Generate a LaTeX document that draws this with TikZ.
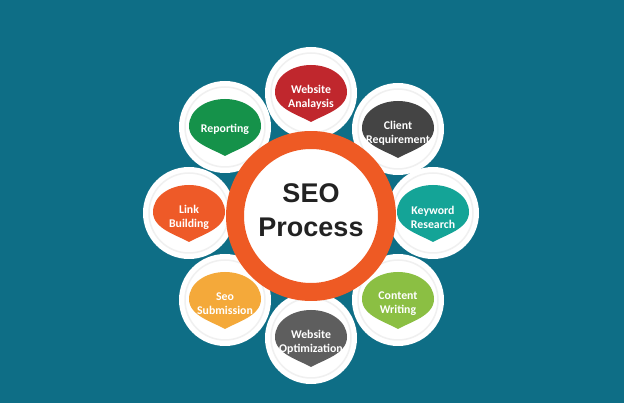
\documentclass[tikz,border=0pt]{standalone}
\usepackage{fontspec}
\setmainfont{Carlito}
\newfontfamily\headfont{Liberation Sans}
\usepackage{xcolor}
\definecolor{seo_bg}{HTML}{0E6E86}
\definecolor{seo_orange}{HTML}{EE5A24}
\definecolor{seo_red}{HTML}{C0272D}
\definecolor{seo_dark}{HTML}{444444}
\definecolor{seo_teal}{HTML}{14A497}
\definecolor{seo_lime}{HTML}{8BBF43}
\definecolor{seo_gray}{HTML}{5E5E5E}
\definecolor{seo_yellow}{HTML}{F4A93A}
\definecolor{seo_flame}{HTML}{EE5A28}
\definecolor{seo_green}{HTML}{15924A}
\definecolor{seo_text}{HTML}{222222}

\begin{document}
\begin{tikzpicture}[
                x=1pt,
                y=-1pt,
                line cap=round,
                line join=round,
                satellite/.style={circle, fill=white, minimum size=92pt, inner sep=0pt},
                step_text/.style={text=white, align=center, font=\bfseries\fontsize{11.8}{14}\selectfont},
                petal/.pic={
                    \fill[pic actions] (0,29) .. controls (-12,22) and (-36,16) .. (-36,-1)
                        .. controls (-36,-17) and (-19,-28) .. (0,-28)
                        .. controls (19,-28) and (36,-17) .. (36,-1)
                        .. controls (36,16) and (12,22) .. (0,29) -- cycle;
                }
            ]
            % Background
            \fill[seo_bg] (0,0) rectangle (624,403);
            \useasboundingbox (0,0) rectangle (624,403);

            % White circles round the hub
            \node[satellite] (analysis) at (311,93) {};
            \node[satellite] (client) at (398,129) {};
            \node[satellite] (keyword) at (433,213) {};
            \node[satellite] (content) at (398,300) {};
            \node[satellite] (optimization) at (311,338) {};
            \node[satellite] (submission) at (225,300) {};
            \node[satellite] (linking) at (189,213) {};
            \node[satellite] (reporting) at (225,127) {};
            \foreach \s in {analysis, client, keyword, content, optimization, submission, linking, reporting}
                \draw[black!6, line width=1.5pt] (\s) circle (40);

            % Hub with orange ring
            \node[circle, draw=seo_orange, line width=18pt, fill=white, minimum size=152pt, inner sep=0pt] (hub) at (311,216) {};
            \node[text=seo_text, align=center, font=\headfont\bfseries\fontsize{27}{34}\selectfont] (hub_text) at (311,210) {SEO\\Process};

            % Coloured petals
            \pic[fill=seo_red] at (analysis) {petal};
            \pic[fill=seo_dark] at (client) {petal};
            \pic[fill=seo_teal] at (keyword) {petal};
            \pic[fill=seo_lime] at (content) {petal};
            \pic[fill=seo_gray] at (optimization) {petal};
            \pic[fill=seo_yellow] at (submission) {petal};
            \pic[fill=seo_flame] at (linking) {petal};
            \pic[fill=seo_green] at (reporting) {petal};

            % Labels
            \node[step_text] (analysis_text) at ([yshift=-4pt]analysis) {Website\\Analaysis};
            \node[step_text] (client_text) at ([yshift=-4pt]client) {Client\\Requirement};
            \node[step_text] (keyword_text) at ([yshift=-4pt]keyword) {Keyword\\Research};
            \node[step_text] (content_text) at ([yshift=-4pt]content) {Content\\Writing};
            \node[step_text] (optimization_text) at ([yshift=-4pt]optimization) {Website\\Optimization};
            \node[step_text] (submission_text) at ([yshift=-4pt]submission) {Seo\\Submission};
            \node[step_text] (linking_text) at ([yshift=-4pt]linking) {Link\\Building};
            \node[step_text] (reporting_text) at ([yshift=-2pt]reporting) {Reporting};
\end{tikzpicture}
\end{document}
